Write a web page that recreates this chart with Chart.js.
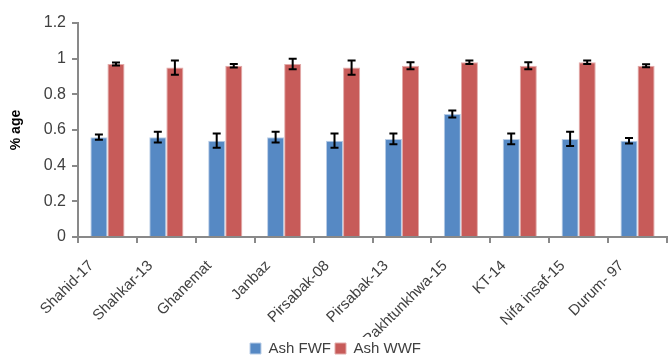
<!DOCTYPE html>
<html>
<head>
<meta charset="utf-8">
<script src="https://cdn.jsdelivr.net/npm/chart.js@4/dist/chart.umd.min.js"></script>
<style>
  html, body { margin: 0; padding: 0; background: #fff; }
  #wrap { width: 670px; height: 356px; }
</style>
</head>
<body>
<div id="wrap"><canvas id="ashChart"></canvas></div>
<script>
// Varieties and ash values
const varieties = ['Shahid-17', 'Shahkar-13', 'Ghanemat', 'Janbaz', 'Pirsabak-08',
                   'Pirsabak-13', 'Pakhtunkhwa-15', 'KT-14', 'Nifa insaf-15', 'Durum- 97'];
const ashFWF = [0.56, 0.56, 0.54, 0.56, 0.54, 0.55, 0.69, 0.55, 0.55, 0.54];
const ashFWFErr = [0.015, 0.03, 0.04, 0.03, 0.04, 0.03, 0.02, 0.03, 0.04, 0.015];
const ashWWF = [0.97, 0.95, 0.96, 0.97, 0.95, 0.96, 0.98, 0.96, 0.98, 0.96];
const ashWWFErr = [0.008, 0.04, 0.01, 0.03, 0.04, 0.02, 0.01, 0.02, 0.01, 0.008];
const yTicks = [0, 0.2, 0.4, 0.6, 0.8, 1, 1.2];

const axisColor = '#898989';
const textColor = '#404040';

// Draws the +/- error bars on top of each bar
const errorBars = {
    id: 'errorBars',
    afterDatasetsDraw(chart) {
        const ctx = chart.ctx;
        const yScale = chart.scales.y;
        ctx.save();
        ctx.strokeStyle = '#000';
        ctx.lineWidth = 2;
        chart.data.datasets.forEach((ds, i) => {
            const meta = chart.getDatasetMeta(i);
            meta.data.forEach((bar, j) => {
                const v = ds.data[j];
                const e = ds.errors[j];
                const top = yScale.getPixelForValue(v + e);
                const bottom = yScale.getPixelForValue(v - e);
                const x = bar.x;
                ctx.beginPath();
                ctx.moveTo(x, top); ctx.lineTo(x, bottom);
                ctx.moveTo(x - 4, top); ctx.lineTo(x + 4, top);
                ctx.moveTo(x - 4, bottom); ctx.lineTo(x + 4, bottom);
                ctx.stroke();
            });
        });
        ctx.restore();
    }
};

new Chart(document.getElementById('ashChart'), {
    type: 'bar',
    data: {
        labels: varieties,
        datasets: [{
            label: 'Ash FWF',
            data: ashFWF,
            errors: ashFWFErr,
            backgroundColor: '#5689C4',
            borderColor: '#B9CDE6',
            borderWidth: 1
        }, {
            label: 'Ash WWF',
            data: ashWWF,
            errors: ashWWFErr,
            backgroundColor: '#C75B59',
            borderColor: '#E2ABAA',
            borderWidth: 1
        }]
    },
    options: {
        responsive: true,
        maintainAspectRatio: false,
        animation: false,
        categoryPercentage: 0.58,
        barPercentage: 1,
        layout: { padding: { top: 23, right: 3, left: 4, bottom: -10 } },
        plugins: {
            legend: {
                position: 'bottom',
                labels: {
                    boxWidth: 11,
                    boxHeight: 11,
                    padding: 4,
                    color: textColor,
                    font: { family: 'Liberation Sans', size: 15 }
                }
            },
            tooltip: { enabled: false }
        },
        scales: {
            x: {
                grid: { display: true, drawOnChartArea: false, tickLength: 6, color: axisColor, lineWidth: 2 },
                border: { color: axisColor, width: 2 },
                ticks: {
                    minRotation: 45,
                    maxRotation: 45,
                    autoSkip: false,
                    padding: 14,
                    labelOffset: -16,
                    color: textColor,
                    font: { family: 'Liberation Sans', size: 15 }
                },
                afterFit(scale) { scale.height = 100; }
            },
            y: {
                min: 0,
                max: 1.2,
                afterBuildTicks(scale) { scale.ticks = yTicks.map(v => ({ value: v })); },
                grid: { display: true, drawOnChartArea: false, tickLength: 6, color: axisColor, lineWidth: 2 },
                border: { color: axisColor, width: 2 },
                ticks: {
                    color: textColor,
                    padding: 6,
                    font: { family: 'Liberation Sans', size: 16 },
                    callback: (v) => String(Math.round(v * 10) / 10)
                },
                title: {
                    display: true,
                    text: '% age',
                    color: '#000',
                    font: { family: 'Liberation Sans', size: 14, weight: 'bold' }
                },
                afterFit(scale) { scale.width = 74; }
            }
        }
    },
    plugins: [errorBars]
});
</script>
</body>
</html>
